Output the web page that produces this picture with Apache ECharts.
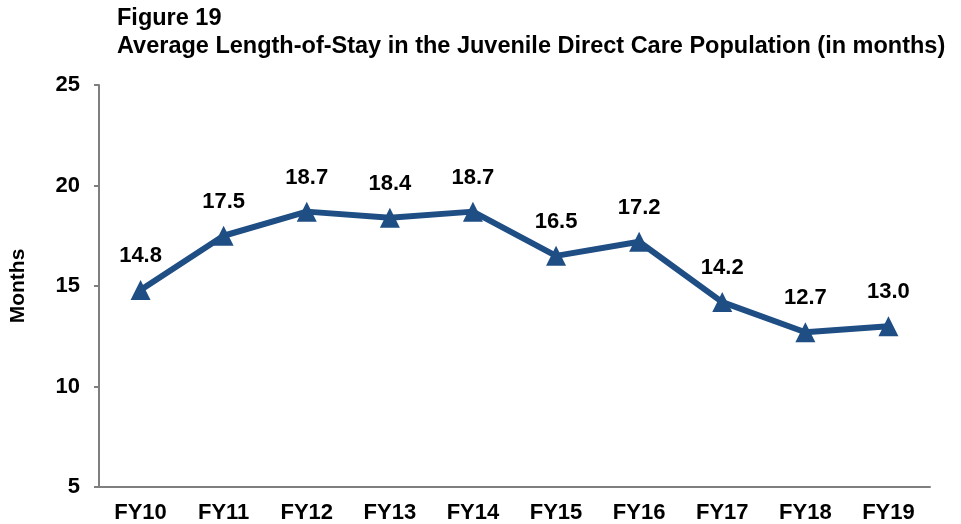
<!DOCTYPE html>
<html>
<head>
<meta charset="utf-8">
<script src="https://cdn.jsdelivr.net/npm/echarts@6/dist/echarts.min.js"></script>
<style>
  html, body { margin: 0; padding: 0; background: #fff; }
  #chart { width: 961px; height: 524px; }
</style>
</head>
<body>
<div id="chart"></div>
<script>
const categories = ["FY10", "FY11", "FY12", "FY13", "FY14", "FY15", "FY16", "FY17", "FY18", "FY19"];
const lengthOfStay = [14.8, 17.5, 18.7, 18.4, 18.7, 16.5, 17.2, 14.2, 12.7, 13.0];
const titleLines = ["Figure 19", "Average Length-of-Stay in the Juvenile Direct Care Population (in months)"];

const font = "Liberation Sans, Arial, sans-serif";
const axisGray = "#7f7f7f";

const chart = echarts.init(document.getElementById("chart"));
chart.setOption({
  animation: false,
  title: {
    text: titleLines.join("\n"),
    left: 112,
    top: 0,
    textStyle: { fontFamily: font, fontSize: 23.5, fontWeight: "bold", color: "#000", lineHeight: 28 }
  },
  grid: { left: 99, right: 31, top: 85, bottom: 37, containLabel: false },
  xAxis: {
    type: "category",
    data: categories,
    axisLine: { lineStyle: { color: axisGray, width: 2 } },
    // only the two end ticks, like the original
    axisTick: { interval: (i) => i === 0, length: 6, lineStyle: { color: axisGray, width: 2 } },
    axisLabel: { fontFamily: font, fontSize: 22, fontWeight: "bold", color: "#000", margin: 15 }
  },
  yAxis: {
    type: "value",
    min: 5,
    max: 25,
    interval: 5,
    name: "Months",
    nameLocation: "middle",
    nameGap: 70,
    nameTextStyle: { fontFamily: font, fontSize: 21, fontWeight: "bold", color: "#000" },
    splitLine: { show: false },
    axisLine: { show: true, lineStyle: { color: axisGray, width: 2 } },
    axisTick: { show: true, length: 5, lineStyle: { color: axisGray, width: 2 } },
    axisLabel: { fontFamily: font, fontSize: 22, fontWeight: "bold", color: "#000", margin: 19 }
  },
  series: [{
    type: "line",
    data: lengthOfStay,
    symbol: "triangle",
    symbolSize: 20,
    lineStyle: { color: "#1f4e84", width: 6 },
    itemStyle: { color: "#1f4e84" },
    label: {
      show: true,
      position: "top",
      distance: 13,
      formatter: (p) => p.value.toFixed(1),
      fontFamily: font,
      fontSize: 22,
      fontWeight: "bold",
      color: "#000"
    }
  }]
});
</script>
</body>
</html>
